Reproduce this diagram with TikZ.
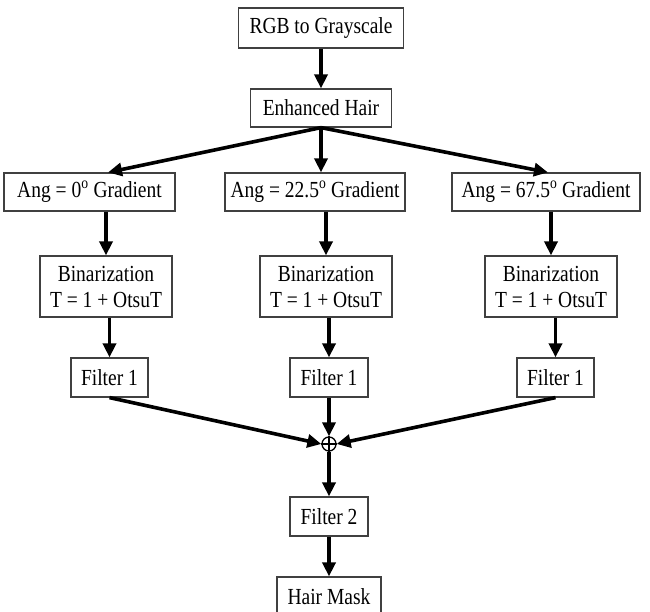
\documentclass[tikz,border=0pt]{standalone}
\usepackage{fontspec}
\setmainfont{Liberation Serif}
\usetikzlibrary{arrows.meta}
\newcommand{\vst}[1]{\scalebox{1}[1.18]{#1}}
\begin{document}
\begin{tikzpicture}[x=1pt,y=-1pt,
  box/.style={draw=black!75, line width=1.2pt, fill=white, inner sep=0pt, align=center, font=\fontsize{19.5}{26}\selectfont},
  arr/.style={line width=3.6pt, -{Triangle[length=14pt,width=13pt]}},
  ]
\useasboundingbox (0,0) rectangle (650,612);
\clip (0,0) rectangle (650,612);
\node[box, minimum width=165pt, minimum height=40pt] (rgb) at (321,28) {\vst{RGB to Grayscale}};
\node[box, minimum width=141pt, minimum height=38pt] (eh) at (321,108) {\vst{Enhanced Hair}};
\node[box, minimum width=171pt, minimum height=38pt] (gl) at (89.5,192) {\vst{Ang = 0\textsuperscript{o} Gradient}};
\node[box, minimum width=180pt, minimum height=38pt] (gm) at (315,192) {\vst{Ang = 22.5\textsuperscript{o} Gradient}};
\node[box, minimum width=188pt, minimum height=38pt] (gr) at (546,192) {\vst{Ang = 67.5\textsuperscript{o} Gradient}};
\node[box, minimum width=132pt, minimum height=61pt] (bl) at (106,286.5) {\vst{Binarization}\\\vst{T = 1 + OtsuT}};
\node[box, minimum width=132pt, minimum height=61pt] (bm) at (326,286.5) {\vst{Binarization}\\\vst{T = 1 + OtsuT}};
\node[box, minimum width=132pt, minimum height=61pt] (br) at (551,286.5) {\vst{Binarization}\\\vst{T = 1 + OtsuT}};
\node[box, minimum width=77pt, minimum height=39pt] (fl) at (109.5,377.5) {\vst{Filter 1}};
\node[box, minimum width=78pt, minimum height=39pt] (fm) at (329,377.5) {\vst{Filter 1}};
\node[box, minimum width=77pt, minimum height=39pt] (fr) at (555.5,377.5) {\vst{Filter 1}};
\node[draw=black, line width=1.3pt, circle, minimum size=14pt, inner sep=0pt] (sum) at (329,444) {};
\draw[line width=1.3pt] (sum.north) -- (sum.south) (sum.west) -- (sum.east);
\node[box, minimum width=78pt, minimum height=39pt] (f2) at (329,516.5) {\vst{Filter 2}};
\node[box, minimum width=104pt, minimum height=40pt] (hm) at (329,597) {\vst{Hair Mask}};
% connectors
\draw[arr] (rgb.south) -- (eh.north);
\coordinate (tl) at ([xshift=18.5pt]gl.north);
\coordinate (tm) at ([xshift=6pt]gm.north);
\coordinate (tr) at ([xshift=2pt]gr.north);
\draw[arr] (eh.south) -- (tl);
\draw[arr] (eh.south) -- (tm);
\draw[arr] (eh.south) -- (tr);
\draw[arr] (gl.south -| bl.north) -- (bl.north);
\draw[arr] (gm.south -| bm.north) -- (bm.north);
\draw[arr] (gr.south -| br.north) -- (br.north);
\draw[arr] (bl.south -| fl.north) -- (fl.north);
\draw[arr] (bm.south -| fm.north) -- (fm.north);
\draw[arr] (br.south -| fr.north) -- (fr.north);
\draw[arr] (fl.south) -- (sum.west);
\draw[arr] (fm.south) -- (sum.north);
\draw[arr] (fr.south) -- (sum.east);
\draw[arr] (sum.south) -- (f2.north);
\draw[arr] (f2.south) -- (hm.north);
\end{tikzpicture}
\end{document}
